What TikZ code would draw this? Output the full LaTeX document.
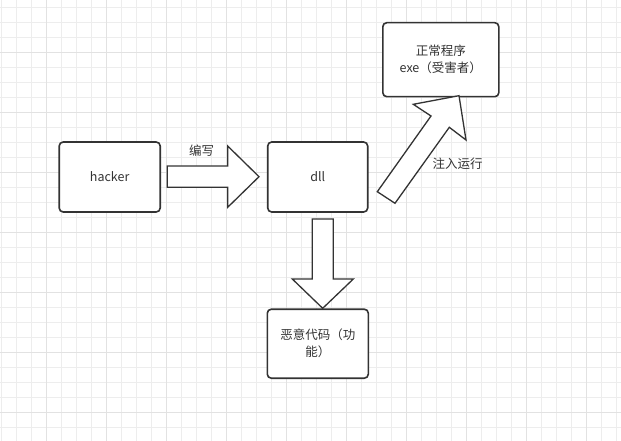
\documentclass[tikz,border=0pt]{standalone}
\usepackage{fontspec}
\setmainfont{Noto Sans CJK SC}
\usepackage{xcolor}

\definecolor{inkgray}{HTML}{333333}
\definecolor{gridminor}{HTML}{EDEDED}
\definecolor{gridmajor}{HTML}{E2E2E2}

\tikzset{
  box/.style={draw=inkgray, line width=1.6pt, rounded corners=4pt, fill=white,
    text=inkgray, align=center, font=\fontsize{12.5}{17}\selectfont},
  blockarrow/.style={draw=inkgray, line width=1.3pt, fill=white, line join=miter},
  lbl/.style={text=inkgray, font=\fontsize{12.5}{15}\selectfont}
}

\begin{document}
\begin{tikzpicture}[x=1pt, y=-1pt]
\useasboundingbox (0,0) rectangle (621,441);
%% grid
\foreach \x in {1,16,...,616} \draw[gridminor, line width=0.8pt] (\x,0) -- (\x,441);
\foreach \y in {7.3,22.3,...,440} \draw[gridminor, line width=0.8pt] (0,\y) -- (621,\y);
\foreach \x in {46,106,...,600} \draw[gridmajor, line width=0.8pt] (\x,0) -- (\x,441);
\foreach \y in {52.3,112.3,...,440} \draw[gridmajor, line width=0.8pt] (0,\y) -- (621,\y);
%% grid

\node[box, minimum width=101pt, minimum height=70pt] (hacker) at (109.7,177) {hacker};
\node[box, minimum width=100pt, minimum height=70pt] (dll) at (317.7,177) {dll};
\node[box, minimum width=116pt, minimum height=74pt] (exe) at (440.8,59.7) {正常程序\\exe（受害者）};
\node[box, minimum width=101pt, minimum height=69pt, text width=84pt] (code) at (317.8,343.7) {恶意代码（功\\能）};

\draw[blockarrow] (167.3,166) -- (227.7,166) -- (227.7,146) -- (259,176.7) -- (227.7,207.3)
  -- (227.7,187.3) -- (167.3,187.3) -- cycle;
\draw[blockarrow] (312.3,219) -- (333.3,219) -- (333.3,279) -- (353.3,279) -- (322.7,308.3)
  -- (292.3,279) -- (312.3,279) -- cycle;
\draw[blockarrow] (377.3,191.7) -- (431,116) -- (413.3,104.3) -- (459,95.7) -- (466,140)
  -- (449.3,127.3) -- (395,203.3) -- cycle;

\node[lbl] (write) at (201.7,151) {编写};
\node[lbl] (inject) at (457.5,163.5) {注入运行};

\end{tikzpicture}
\end{document}
